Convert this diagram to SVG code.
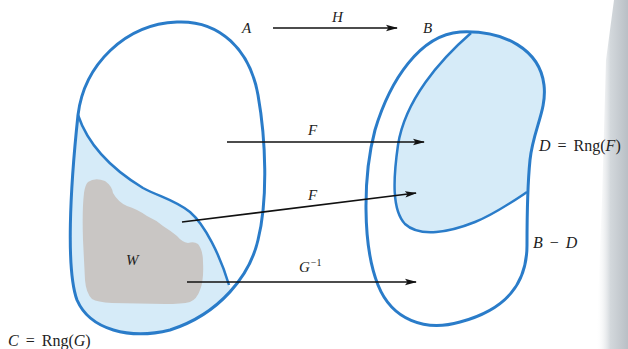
<svg xmlns="http://www.w3.org/2000/svg" width="628" height="349" viewBox="0 0 628 349">
<defs>
<style>
.outline{fill:none;stroke:#2a7cc9;stroke-width:3;stroke-linejoin:round}
.inner{fill:none;stroke:#2a7cc9;stroke-width:2.5}
.region{fill:#d6ebf8}
.arrow{stroke:#111;stroke-width:1.6;fill:none;marker-end:url(#ah)}
.lbl{font-family:"Liberation Serif","Times New Roman",serif;font-size:15px;fill:#222}
.big{font-size:16px}
.it{font-style:italic}
</style>
<marker id="ah" viewBox="0 0 12 8" refX="11" refY="4" markerWidth="12" markerHeight="8" markerUnits="userSpaceOnUse" orient="auto">
<path d="M0,0.8 L12,4 L0,7.2 L2.5,4 Z" fill="#111"/>
</marker>
<clipPath id="clipA">
<path d="M177,22 C220,20 250,50 258,95 C266,140 268,200 258,240 C250,275 220,314 170,330 C130,340 90,330 77,300 C66,270 70,190 78,115 C84,65 125,24 177,22 Z"/>
</clipPath>
<clipPath id="clipB">
<path d="M460,32 C505,30 540,50 544,85 C547,110 533,130 530,160 C527,190 527,215 527,245 C527,285 505,310 460,322 C425,332 392,320 378,285 C362,245 363,175 375,130 C390,80 420,35 460,32 Z"/>
</clipPath>
<linearGradient id="edge" x1="0" y1="0" x2="1" y2="0">
<stop offset="0" stop-color="#ffffff" stop-opacity="0"/>
<stop offset="0.45" stop-color="#d3d8dc"/>
<stop offset="1" stop-color="#b9bfc5"/>
</linearGradient>
</defs>

<polygon points="614,0 628,0 628,349 596,349 602,200 606,60" fill="url(#edge)"/>

<g id="setA">
<path class="region" clip-path="url(#clipA)" d="M78,115 C88,145 110,168 143,188 C160,197 175,200 190,212 C205,225 220,255 229,285 L250,350 L50,350 L50,100 Z"/>
<path id="W-shape" fill="#c9c6c4" d="M88,182 Q95,177 105,181 Q112,186 113,193 Q118,202 127,206 Q137,209 147,216 Q156,220 163,226 Q171,231 177,236 Q182,242 188,243 Q194,241 198,244 Q203,250 203,262 Q204,280 200,290 Q197,299 190,302 Q182,304 165,304 L112,303 Q97,302 92,299 Q86,293 85,280 L83,240 Q82,210 84,193 Q85,185 88,182 Z"/>
<path class="inner" d="M78,115 C88,145 110,168 143,188 C160,197 175,200 190,212 C205,225 220,255 229,285"/>
<path class="outline" d="M177,22 C220,20 250,50 258,95 C266,140 268,200 258,240 C250,275 220,314 170,330 C130,340 90,330 77,300 C66,270 70,190 78,115 C84,65 125,24 177,22 Z"/>
<text class="lbl it" x="242" y="33">A</text>
<text class="lbl it" x="126" y="265" font-size="13">W</text>
<text class="lbl big" x="8" y="346"><tspan class="it">C</tspan><tspan dx="7">=</tspan><tspan dx="7">Rng(</tspan><tspan class="it">G</tspan>)</text>
</g>

<g id="setB">
<path class="region" clip-path="url(#clipB)" d="M471,33 C440,60 405,100 398,145 C393,180 392,210 405,224 C420,238 450,232 475,222 C495,214 515,200 527,192 L560,192 L560,0 L471,0 Z"/>
<path class="inner" d="M471,33 C440,60 405,100 398,145 C393,180 392,210 405,224 C420,238 450,232 475,222 C495,214 515,200 527,192"/>
<path class="outline" d="M460,32 C505,30 540,50 544,85 C547,110 533,130 530,160 C527,190 527,215 527,245 C527,285 505,310 460,322 C425,332 392,320 378,285 C362,245 363,175 375,130 C390,80 420,35 460,32 Z"/>
<text class="lbl it" x="423" y="33">B</text>
<text class="lbl big" x="539" y="151"><tspan class="it">D</tspan><tspan dx="7">=</tspan><tspan dx="7">Rng(</tspan><tspan class="it">F</tspan>)</text>
<text class="lbl big" x="533" y="248"><tspan class="it">B</tspan><tspan dx="7">−</tspan><tspan class="it" dx="7">D</tspan></text>
</g>

<g id="connectors">
<line class="arrow" x1="273" y1="28" x2="397" y2="28"/>
<text class="lbl it" x="332" y="22">H</text>
<line class="arrow" x1="227" y1="142" x2="424" y2="142"/>
<text class="lbl it" x="308" y="135">F</text>
<line class="arrow" x1="182" y1="222" x2="416" y2="193"/>
<text class="lbl it" x="308" y="200">F</text>
<line class="arrow" x1="187" y1="282" x2="416" y2="282"/>
<text class="lbl" x="299" y="272"><tspan class="it">G</tspan><tspan font-size="10" dx="1" dy="-6">−1</tspan></text>
</g>
</svg>
